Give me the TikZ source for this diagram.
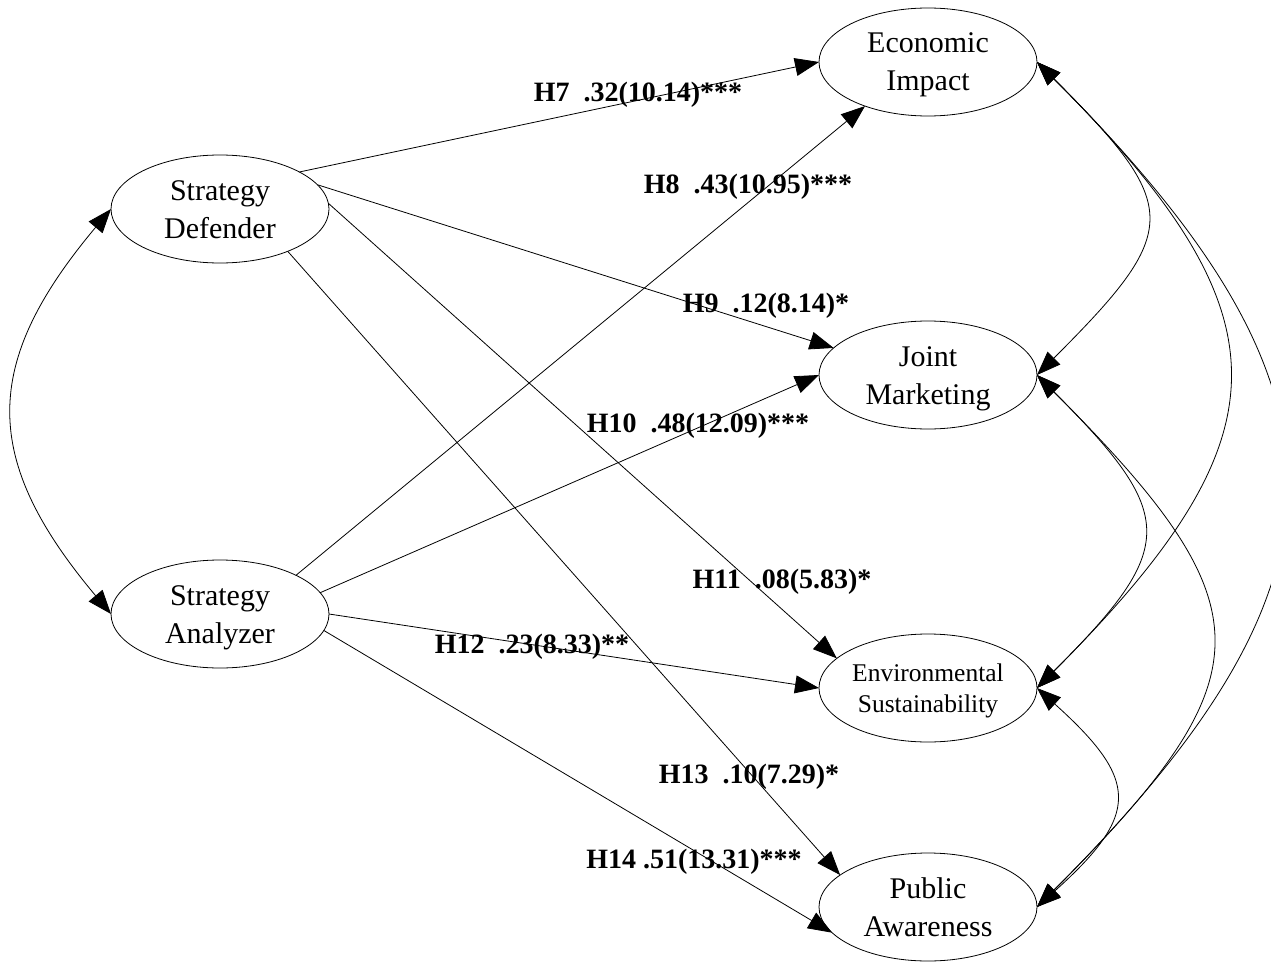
\documentclass[tikz,border=0pt]{standalone}
\usepackage{fontspec}
\setmainfont{Liberation Serif}
\usetikzlibrary{shapes.geometric,arrows.meta}
\newcommand{\twoline}[2]{\rule{0pt}{27pt}#1\\#2\rule[-7pt]{0pt}{7pt}}
\newcommand{\twolinesmall}[2]{\rule{0pt}{23pt}#1\\#2\rule[-6pt]{0pt}{6pt}}
\begin{document}
\begin{tikzpicture}[x=1pt,y=1pt,
  lat/.style={ellipse,draw,line width=0.8pt,minimum width=218pt,minimum height=108pt,
    inner sep=0pt,outer sep=0pt,align=center,font=\fontsize{30}{38}\selectfont},
  latsmall/.style={lat,font=\fontsize{25.5}{31}\selectfont},
  hyp/.style={font=\fontsize{28}{34}\selectfont\bfseries,anchor=base,inner sep=0pt},
  arr/.style={line width=0.8pt,-{Triangle[length=24pt,width=18pt]}},
  cov/.style={line width=0.8pt,{Triangle[length=24pt,width=18pt]}-{Triangle[length=24pt,width=18pt]}}]
\useasboundingbox (0,0) rectangle (1271,-963);
% latent variables
\node[lat] (D) at (220,-209) {\twoline{Strategy}{Defender}};
\node[lat] (A) at (220,-614) {\twoline{Strategy}{Analyzer}};
\node[lat] (EI) at (928,-62) {\twoline{Economic}{Impact}};
\node[lat] (JM) at (928,-375) {\twoline{Joint}{Marketing}};
\node[latsmall] (ES) at (928,-688) {\twolinesmall{Environmental}{Sustainability}};
\node[lat] (PA) at (928,-907) {\twoline{Public}{Awareness}};
% paths
\draw[arr] (D.25) -- (EI.west);
\draw[arr] (A.27) -- (EI.215);
\draw[arr] (D.14) -- (JM.164);
\draw[arr] (A.12) -- (JM.west);
\draw[arr] (D.3) -- (ES.162);
\draw[arr] (A.east) -- (ES.west);
\draw[arr] (D.-32) -- (PA.160);
\draw[arr] (A.-9) -- (PA.195);
% covariances
\draw[cov] (D.west) to[out=-130,in=130,looseness=1.28] (A.west);
\draw[cov] (EI.east) to[out=-45,in=45,looseness=1.68] (JM.east);
\draw[cov] (EI.east) to[out=-45,in=45,looseness=1.47] (ES.east);
\draw[cov] (EI.east) to[out=-45,in=45,looseness=1.41] (PA.east);
\draw[cov] (JM.east) to[out=-45,in=45,looseness=1.63] (ES.east);
\draw[cov] (JM.east) to[out=-45,in=45,looseness=1.58] (PA.east);
\draw[cov] (ES.east) to[out=-42,in=42,looseness=1.62] (PA.east);
% labels
\node[hyp] (h7) at (638,-102) {H7\ \ .32(10.14)***};
\node[hyp] (h8) at (748,-193) {H8\ \ .43(10.95)***};
\node[hyp] (h9) at (766,-312) {H9\ \ .12(8.14)*};
\node[hyp] (h10) at (698,-432) {H10\ \ .48(12.09)***};
\node[hyp] (h11) at (782,-588) {H11\ \ .08(5.83)*};
\node[hyp] (h12) at (532,-653) {H12\ \ .23(8.33)**};
\node[hyp] (h13) at (749,-783) {H13\ \ .10(7.29)*};
\node[hyp] (h14) at (694,-868) {H14 .51(13.31)***};
\end{tikzpicture}
\end{document}
